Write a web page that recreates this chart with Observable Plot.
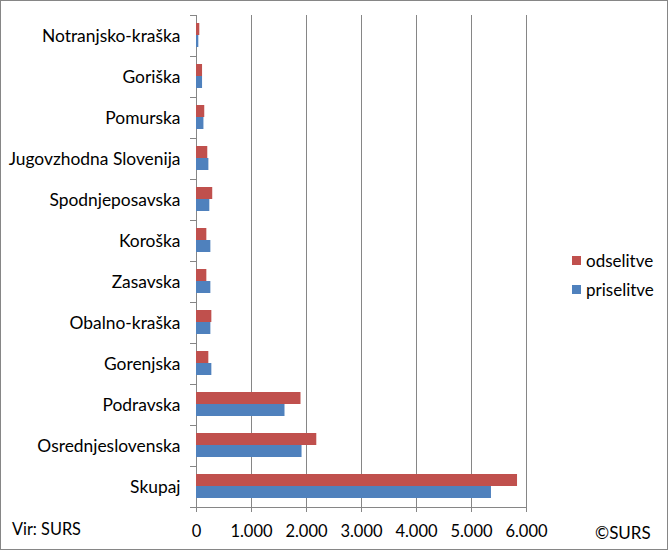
<!DOCTYPE html>
<html>
<head>
<meta charset="utf-8">
<script src="https://cdn.jsdelivr.net/npm/d3@7"></script>
<script src="https://cdn.jsdelivr.net/npm/@observablehq/plot@0.6"></script>
<style>
  html, body { margin: 0; padding: 0; background: #fff; }
  #wrap { position: relative; width: 670px; height: 551px; font-family: Lato, "Noto Sans", sans-serif; }
  #border { position: absolute; left: 0; top: 0; width: 666px; height: 548px; border: 1px solid #868686; pointer-events: none; }
  .lbl { position: absolute; font-size: 17px; color: #000; white-space: nowrap; line-height: 1; }
  .sw { position: absolute; width: 9px; height: 9px; }
</style>
</head>
<body>
<div id="wrap">
  <div id="chart"></div>
  <div id="border"></div>
  <div class="sw" style="left:572px; top:256px; background:#C0504D"></div>
  <div class="lbl" style="left:586px; top:252px;">odselitve</div>
  <div class="sw" style="left:572px; top:285px; background:#4F81BD"></div>
  <div class="lbl" style="left:586px; top:281px;">priselitve</div>
  <div class="lbl" style="left:12px; top:521px; font-size:16.3px;">Vir: SURS</div>
  <div class="lbl" style="left:595px; top:524px;">©SURS</div>
</div>
<script>
const regions = ["Notranjsko-kraška", "Goriška", "Pomurska", "Jugovzhodna Slovenija", "Spodnjeposavska", "Koroška", "Zasavska", "Obalno-kraška", "Gorenjska", "Podravska", "Osrednjeslovenska", "Skupaj"];
const odselitve = [60, 110, 150, 205, 295, 188, 188, 279, 224, 1900, 2187, 5837];
const priselitve = [42, 110, 135, 225, 242, 261, 261, 261, 279, 1609, 1919, 5363];
const xTicks = [0, 1000, 2000, 3000, 4000, 5000, 6000];
const seriesNames = ["odselitve", "priselitve"];
const seriesColors = ["#C0504D", "#4F81BD"];

const odsData = regions.map((r, i) => ({region: r, value: odselitve[i]}));
const priData = regions.map((r, i) => ({region: r, value: priselitve[i]}));
const fmt = d => d3.format(",")(d).replace(/,/g, ".");
const gray = "#868686";
const tickLen = -6 * 6000 / 330; // 6px to the left of the axis, in data units

const plot = Plot.plot({
  width: 670,
  height: 551,
  marginLeft: 196,
  marginRight: 144,
  marginTop: 15,
  marginBottom: 44,
  style: {fontFamily: "Lato, 'Noto Sans', sans-serif", fontSize: "16.5px", color: "#000", background: "transparent"},
  x: {domain: [0, 6000], ticks: xTicks},
  y: {domain: regions, padding: 0},
  marks: [
    Plot.gridX(xTicks, {stroke: gray, strokeOpacity: 1}),
    Plot.frame({anchor: "bottom", stroke: gray}),
    Plot.frame({anchor: "left", stroke: gray}),
    Plot.axisX(xTicks, {tickSize: 5, tickPadding: 13, stroke: gray, tickFormat: fmt, fill: "#000", label: null}),
    Plot.axisY({tickSize: 0, tickPadding: 16, label: null, fill: "#000", fontSize: 17.4}),
    Plot.ruleY(regions, {y: d => d, x1: tickLen, x2: 0, stroke: gray, dy: -20.5}),
    Plot.ruleY([regions[regions.length - 1]], {y: d => d, x1: tickLen, x2: 0, stroke: gray, dy: 20.5}),
    Plot.barX(odsData, {x: "value", y: "region", fill: seriesColors[0], insetTop: 8, insetBottom: 21}),
    Plot.barX(priData, {x: "value", y: "region", fill: seriesColors[1], insetTop: 20, insetBottom: 9})
  ]
});
document.getElementById("chart").appendChild(plot);
</script>
</body>
</html>
